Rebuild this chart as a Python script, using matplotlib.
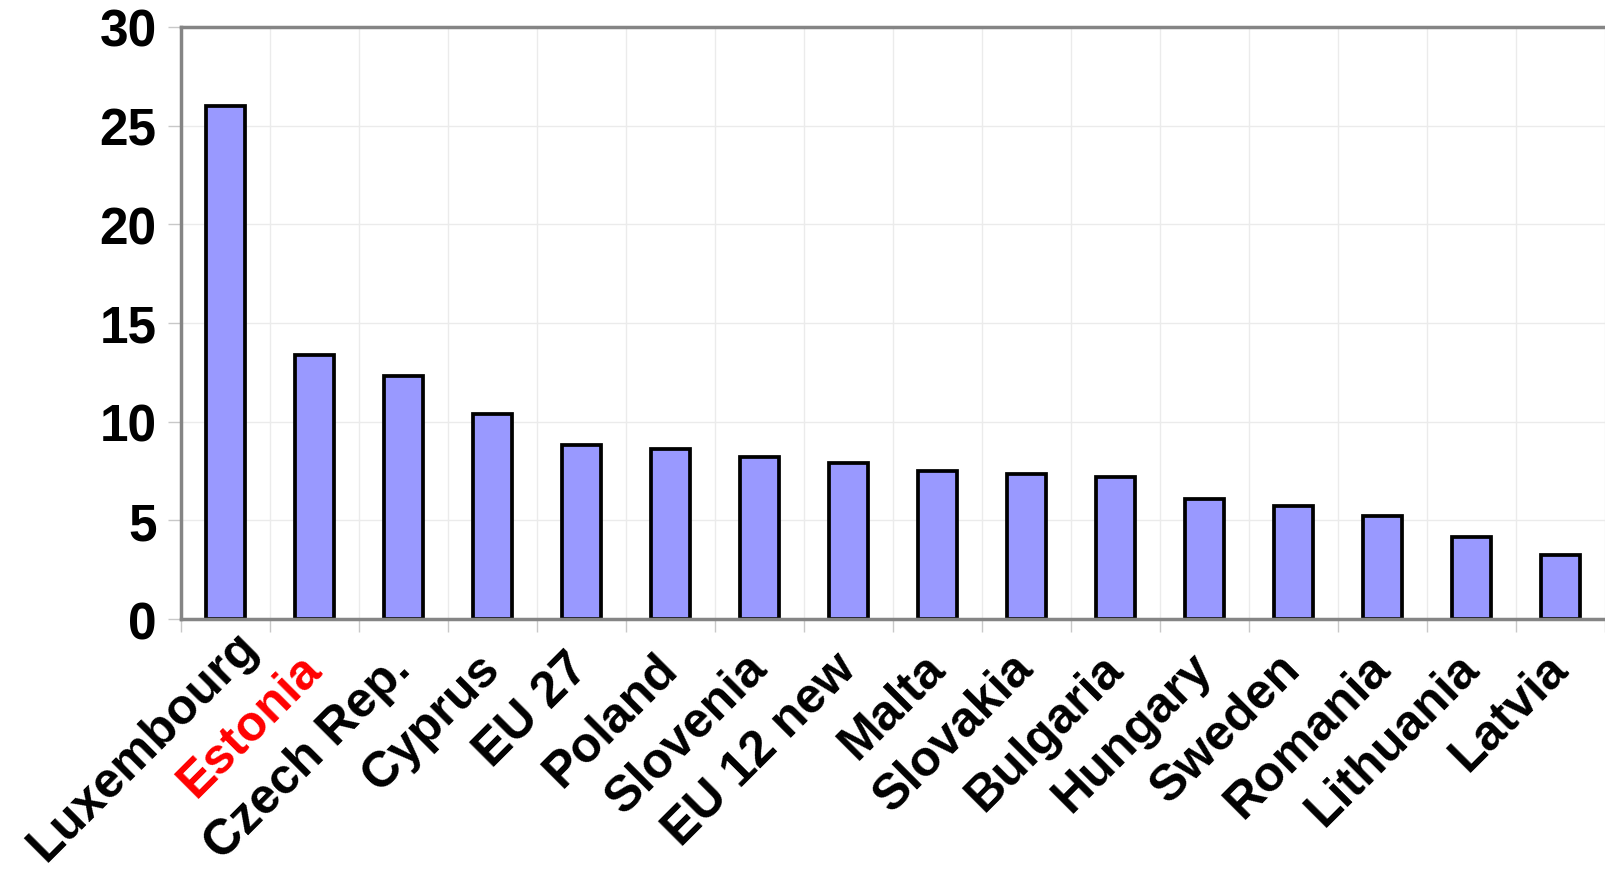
import matplotlib.pyplot as plt
import numpy as np

# Chart data
COUNTRIES = ["Luxembourg", "Estonia", "Czech Rep.", "Cyprus", "EU 27", "Poland",
             "Slovenia", "EU 12 new", "Malta", "Slovakia", "Bulgaria", "Hungary",
             "Sweden", "Romania", "Lithuania", "Latvia"]
VALUES = [26.0, 13.4, 12.3, 10.4, 8.8, 8.6, 8.2, 7.9, 7.5, 7.35, 7.2, 6.1,
          5.75, 5.2, 4.15, 3.25]
Y_TICKS = [0, 5, 10, 15, 20, 25, 30]
HIGHLIGHT = "Estonia"

BAR_COLOR = "#9999FF"
AXIS_GRAY = "#858585"
GRID_GRAY = "#EBEBEB"

plt.rcParams['font.family'] = ['Liberation Sans', 'DejaVu Sans']
plt.rcParams['font.weight'] = 'bold'

fig = plt.figure(figsize=(16.05, 8.7), dpi=100)
ax = fig.add_axes([181 / 1605, 1 - 620 / 870, 1 - 181 / 1605, 592 / 870])

x = np.arange(len(COUNTRIES))
ax.bar(x, VALUES, width=0.43, color=BAR_COLOR, edgecolor="black",
       linewidth=2.7, zorder=3)

# the plot runs past the right edge of the picture, as in the original
ax.set_xlim(-0.5, -0.5 + (1605 - 181) / 89.87)
ax.set_ylim(0, 30)

ax.set_yticks(Y_TICKS)
ax.set_yticklabels([str(v) for v in Y_TICKS], fontsize=37, fontweight='bold')
ax.set_xticks(x)
ax.set_xticklabels([])

# category names, rotated; the long first one is pushed up to stay in view
for i, name in enumerate(COUNTRIES):
    offset = (18, -14) if i == 0 else (0, -30)
    ax.annotate(name, xy=(i, 0), xycoords=('data', 'axes fraction'),
                xytext=offset, textcoords='offset points',
                rotation=45, ha='right', va='center', rotation_mode='anchor',
                fontsize=36, fontweight='bold', annotation_clip=False,
                color="#FF0000" if name == HIGHLIGHT else "black")

ax.set_xticks(np.arange(-0.5, len(COUNTRIES), 1.0), minor=True)
ax.tick_params(axis='x', which='major', length=0)
ax.tick_params(axis='x', which='minor', length=9.5, width=1, color="#C8C8C8")
ax.tick_params(axis='y', which='major', length=9.5, width=1, color="#C8C8C8", pad=8)

ax.grid(True, which='minor', axis='x', color=GRID_GRAY, linewidth=1, zorder=0)
ax.grid(True, which='major', axis='y', color=GRID_GRAY, linewidth=1, zorder=0)

for side in ['left', 'top', 'bottom']:
    ax.spines[side].set_color(AXIS_GRAY)
    ax.spines[side].set_linewidth(2.5)
    ax.spines[side].set_zorder(4)
ax.spines['right'].set_visible(False)

fig.savefig("out.png", dpi=100)
